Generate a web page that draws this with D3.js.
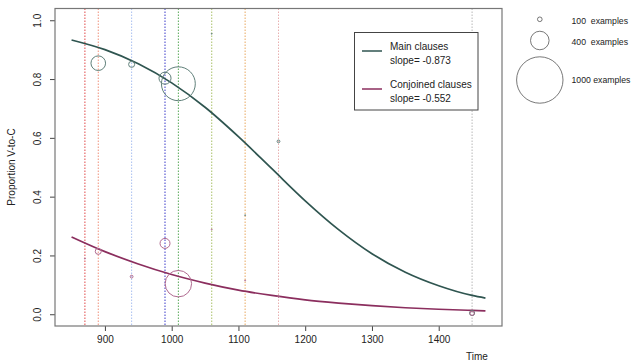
<!DOCTYPE html>
<html><head><meta charset="utf-8">
<script src="https://cdn.jsdelivr.net/npm/d3@7"></script>
<style>body{margin:0;background:#fff}svg{display:block;font-family:"Liberation Sans",Arial,sans-serif}</style>
</head><body>
<svg id="c" width="642" height="361"></svg>
<script>
// ---- data ----
const xTicks = [900, 1000, 1100, 1200, 1300, 1400];
const yTicks = [0, 0.2, 0.4, 0.6, 0.8, 1.0];
const vYears = [870, 890, 940, 990, 1010, 1060, 1110, 1160, 1450];
const vColors = ["#e04848", "#f0907a", "#a8bff0", "#3838c8", "#58a858", "#a8c068", "#e8a860", "#e8b0b0", "#b8b8b8"];
const curveYears = [850, 900, 950, 1000, 1050, 1100, 1150, 1200, 1250, 1300, 1350, 1400, 1450, 1470];
const mainCurve = [0.933, 0.900, 0.852, 0.787, 0.704, 0.604, 0.495, 0.386, 0.288, 0.206, 0.143, 0.097, 0.064, 0.055];
const conjCurve = [0.263, 0.213, 0.171, 0.135, 0.106, 0.082, 0.064, 0.049, 0.038, 0.029, 0.022, 0.017, 0.013, 0.0115];
const mainYears = [890, 940, 990, 1010, 1060, 1110, 1160, 1450];
const mainProp = [0.854, 0.850, 0.803, 0.784, 0.954, 0.337, 0.588, 0.004];
const mainN = [315, 130, 260, 730, 20, 20, 60, 110];
const conjYears = [870, 890, 940, 990, 1010, 1060, 1110, 1160, 1450];
const conjProp = [0.189, 0.214, 0.128, 0.241, 0.104, 0.288, 0.115, 0.060, 0.003];
const conjN = [20, 130, 60, 215, 570, 20, 20, 30, 90];
const seriesNames = ["Main clauses", "Conjoined clauses"];
const seriesSlopes = ["slope= -0.873", "slope= -0.552"];
const sizeLegendN = [100, 400, 1000];
const sizeLegendLabels = ["100\u00a0\u00a0examples", "400\u00a0\u00a0examples", "1000 examples"];

// ---- drawing ----
const svg = d3.select("#c");
const L = 55, R = 502, T = 8.5, B = 326;
const x = d3.scaleLinear().domain([825.2, 1494.8]).range([L, R]);
const y = d3.scaleLinear().domain([-0.04, 1.04]).range([B, T]);
const r = d3.scaleLinear().domain([0, 1000]).range([0, 23.2]);
const mainCol = "#2f5550", conjCol = "#8b2e5e";
const mainPtCol = "#5f7f79", conjPtCol = "#b06a90";

// vertical dotted lines
svg.append("g").selectAll("line").data(vYears).join("line")
  .attr("x1", d => x(d)).attr("x2", d => x(d))
  .attr("y1", T).attr("y2", B)
  .attr("stroke", (d, i) => vColors[i]).attr("stroke-width", 1)
  .attr("stroke-dasharray", "1.5,1.5");

// curves
const line = d3.line().x(d => x(d[0])).y(d => y(d[1])).curve(d3.curveMonotoneX);
svg.append("path").datum(curveYears.map((t, i) => [t, mainCurve[i]]))
  .attr("d", line).attr("fill", "none").attr("stroke", mainCol).attr("stroke-width", 1.7);
svg.append("path").datum(curveYears.map((t, i) => [t, conjCurve[i]]))
  .attr("d", line).attr("fill", "none").attr("stroke", conjCol).attr("stroke-width", 1.7);

// points
svg.append("g").selectAll("circle").data(mainYears).join("circle")
  .attr("cx", d => x(d)).attr("cy", (d, i) => y(mainProp[i])).attr("r", (d, i) => r(mainN[i]))
  .attr("fill", "none").attr("stroke", mainPtCol).attr("stroke-width", 1);
svg.append("g").selectAll("circle").data(conjYears).join("circle")
  .attr("cx", d => x(d)).attr("cy", (d, i) => y(conjProp[i])).attr("r", (d, i) => r(conjN[i]))
  .attr("fill", "none").attr("stroke", conjPtCol).attr("stroke-width", 1);

// axes
const xa = svg.append("g").attr("transform", `translate(0,${B})`)
  .call(d3.axisBottom(x).tickValues(xTicks).tickSize(5).tickPadding(5).tickFormat(d3.format("d")));
xa.select(".domain").remove();
xa.selectAll("line").attr("stroke", "#444");
xa.selectAll("text").attr("font-size", 10).attr("fill", "#222").attr("font-family", "Liberation Sans, Arial, sans-serif");

const ya = svg.append("g").attr("transform", `translate(${L},0)`)
  .call(d3.axisLeft(y).tickValues(yTicks).tickSize(5).tickFormat(d3.format(".1f")));
ya.select(".domain").remove();
ya.selectAll("line").attr("stroke", "#444");
ya.selectAll(".tick text").attr("font-size", 10).attr("fill", "#222")
  .attr("font-family", "Liberation Sans, Arial, sans-serif")
  .attr("x", null).attr("y", null)
  .attr("transform", "translate(-18,0) rotate(-90)").attr("text-anchor", "middle").attr("dy", "0.35em");

// box
svg.append("rect").attr("x", L).attr("y", T).attr("width", R - L).attr("height", B - T)
  .attr("fill", "none").attr("stroke", "#777").attr("stroke-width", 1.2);

// axis titles
svg.append("text").attr("x", 477).attr("y", 359.5).attr("text-anchor", "middle")
  .attr("font-size", 10).attr("fill", "#222").text("Time");
svg.append("text").attr("transform", "translate(15,167) rotate(-90)").attr("text-anchor", "middle")
  .attr("font-size", 10).attr("fill", "#222").text("Proportion V-to-C");

// legend
const lg = svg.append("g");
lg.append("rect").attr("x", 354.5).attr("y", 32.5).attr("width", 123.5).attr("height", 77.5)
  .attr("fill", "#fff").attr("stroke", "#444").attr("stroke-width", 1);
const legCols = [mainCol, conjCol];
const legY = [51, 89];
seriesNames.forEach((nm, i) => {
  lg.append("line").attr("x1", 362).attr("x2", 382).attr("y1", legY[i]).attr("y2", legY[i])
    .attr("stroke", legCols[i]).attr("stroke-width", 1.5);
  lg.append("text").attr("x", 390).attr("y", legY[i] - 1.5).attr("font-size", 10).attr("fill", "#222").text(nm);
  lg.append("text").attr("x", 390).attr("y", legY[i] + 12.5).attr("font-size", 10).attr("fill", "#222").text(seriesSlopes[i]);
});

// size legend
const sizeCy = [19.3, 40.5, 80];
const sizeTy = [24, 44.5, 82.5];
sizeLegendN.forEach((n, i) => {
  svg.append("circle").attr("cx", 539.8).attr("cy", sizeCy[i]).attr("r", r(n))
    .attr("fill", "none").attr("stroke", "#555").attr("stroke-width", 0.8);
  svg.append("text").attr("x", 571.5).attr("y", sizeTy[i]).attr("font-size", 8.7).attr("fill", "#222")
    .text(sizeLegendLabels[i]);
});
</script>
</body></html>
